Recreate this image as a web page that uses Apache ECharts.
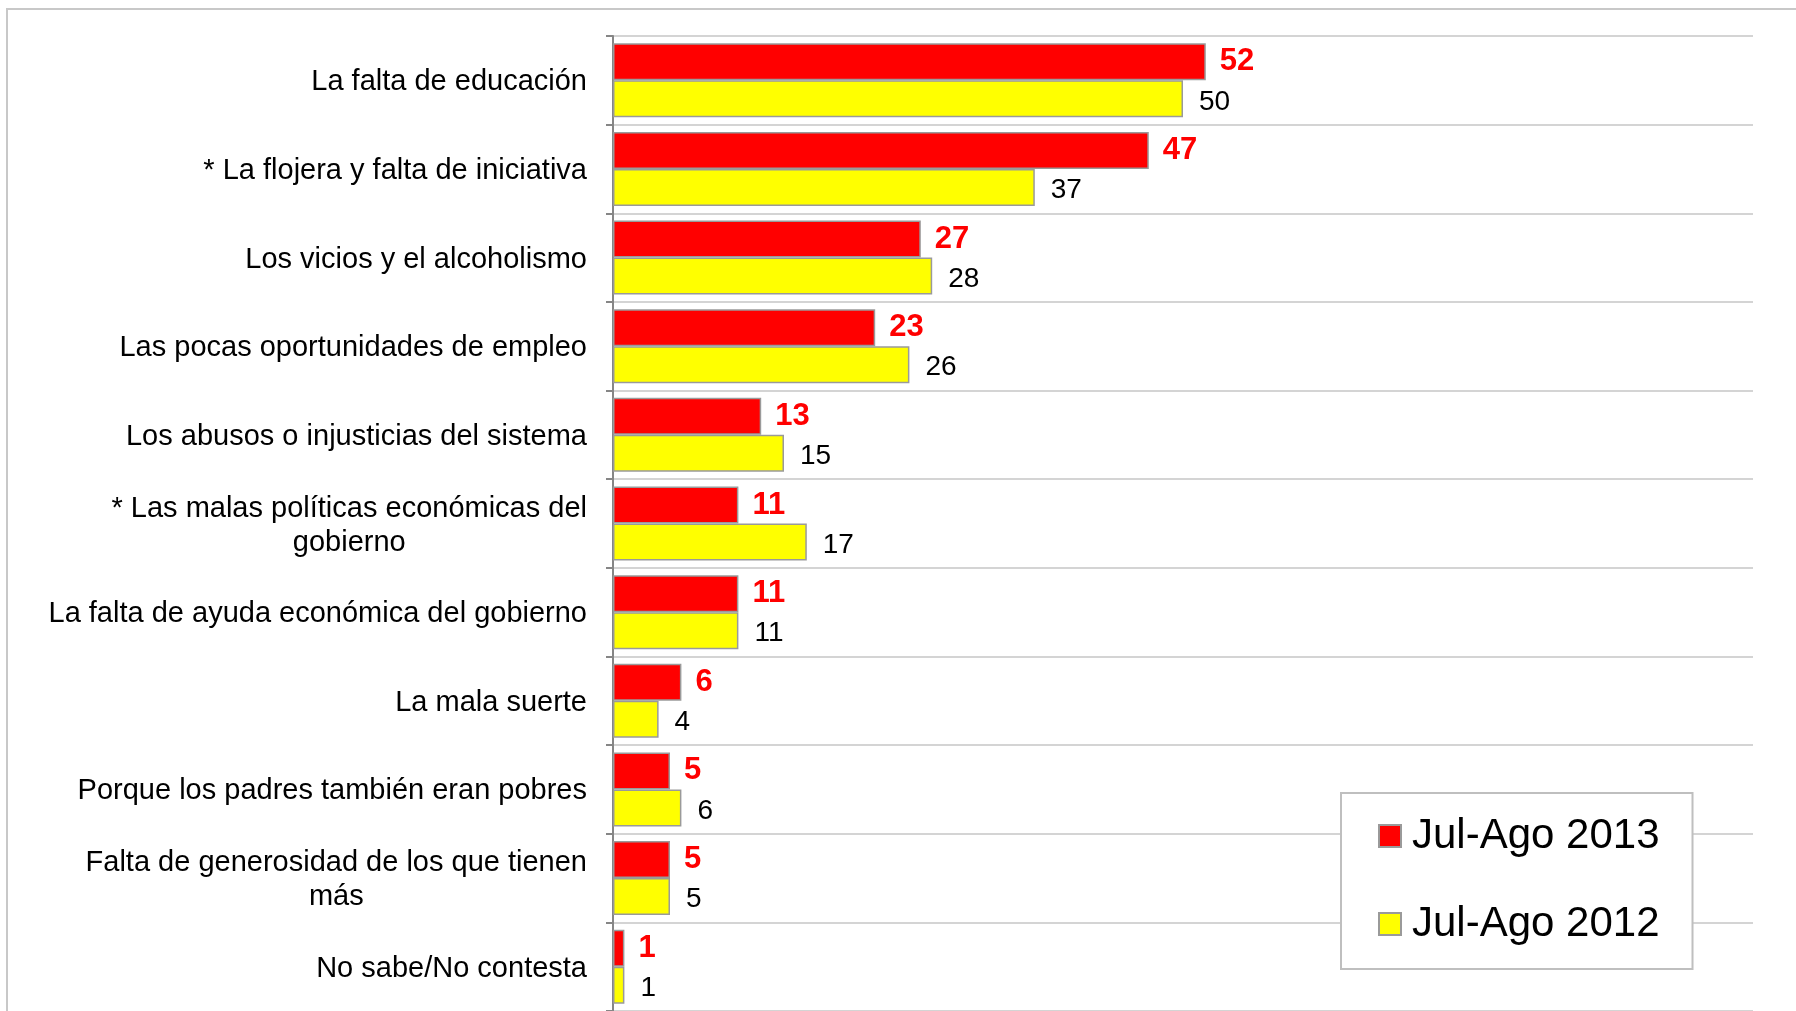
<!DOCTYPE html>
<html>
<head>
<meta charset="utf-8">
<script src="https://cdn.jsdelivr.net/npm/echarts@6/dist/echarts.min.js"></script>
<style>
  html, body { margin: 0; padding: 0; background: #fff; }
  #chart { width: 1796px; height: 1011px; }
</style>
</head>
<body>
<div id="chart"></div>
<script>
// categorias (de arriba hacia abajo)
var categories = [
    'La falta de educación',
    '* La flojera y falta de iniciativa',
    'Los vicios y el alcoholismo',
    'Las pocas oportunidades de empleo',
    'Los abusos o injusticias del sistema',
    '* Las malas políticas económicas del\ngobierno',
    'La falta de ayuda económica del gobierno',
    'La mala suerte',
    'Porque los padres también eran pobres',
    'Falta de generosidad de los que tienen\nmás',
    'No sabe/No contesta'
];
var seriesNames = ['Jul-Ago 2013', 'Jul-Ago 2012'];
var values2013 = [52, 47, 27, 23, 13, 11, 11, 6, 5, 5, 1];
var values2012 = [50, 37, 28, 26, 15, 17, 11, 4, 6, 5, 1];

var FONT = '"Liberation Sans", Arial, sans-serif';

var chart = echarts.init(document.getElementById('chart'));
var option = {
    backgroundColor: '#fff',
    textStyle: { fontFamily: FONT },
    animation: false,
    graphic: [
        {
            type: 'rect',
            shape: { x: 7, y: 9, width: 1900, height: 1100 },
            style: { fill: 'none', stroke: '#c8c8c8', lineWidth: 2 },
            silent: true
        }
    ],
    legend: {
        orient: 'vertical',
        left: 1341,
        top: 793,
        padding: [22, 33, 24, 37],
        itemGap: 46,
        itemWidth: 22,
        itemHeight: 22,
        icon: 'rect',
        backgroundColor: '#fff',
        borderColor: '#bfbfbf',
        borderWidth: 2,
        textStyle: { fontSize: 42, color: '#000', fontFamily: FONT, padding: [0, 0, 0, 6] },
        data: seriesNames
    },
    grid: {
        left: 613,
        right: 43,
        top: 36,
        bottom: 0
    },
    xAxis: {
        type: 'value',
        min: 0,
        max: 100,
        show: false
    },
    yAxis: {
        type: 'category',
        inverse: true,
        data: categories,
        axisLine: { show: true, lineStyle: { color: '#868686', width: 2 } },
        axisTick: { show: true, length: 7, lineStyle: { color: '#868686', width: 2 } },
        splitLine: { show: true, lineStyle: { color: '#d4d4d4', width: 2 } },
        axisLabel: {
            margin: 26,
            color: '#000',
            fontSize: 29,
            fontFamily: FONT,
            padding: [4, 0, 0, 0],
            formatter: function (v) {
                return v.split('\n').map(function (l) { return '{c|' + l + '}'; }).join('\n');
            },
            rich: {
                c: { align: 'center', fontSize: 29, lineHeight: 34, color: '#000', fontFamily: FONT }
            }
        }
    },
    series: [
        {
            name: seriesNames[0],
            type: 'bar',
            data: values2013,
            barWidth: 37,
            barGap: '0%',
            itemStyle: { color: '#ff0000', borderColor: '#9a9a9a', borderWidth: 1.5 },
            label: {
                show: true,
                position: 'right',
                distance: 14,
                color: '#ff0000',
                fontWeight: 'bold',
                fontSize: 31,
                fontFamily: FONT
            }
        },
        {
            name: seriesNames[1],
            type: 'bar',
            data: values2012,
            barWidth: 37,
            barGap: '0%',
            itemStyle: { color: '#ffff00', borderColor: '#9a9a9a', borderWidth: 1.5 },
            label: {
                show: true,
                position: 'right',
                distance: 16,
                offset: [0, 3],
                color: '#000',
                fontSize: 28,
                fontFamily: FONT
            }
        }
    ]
};
chart.setOption(option);
</script>
</body>
</html>
